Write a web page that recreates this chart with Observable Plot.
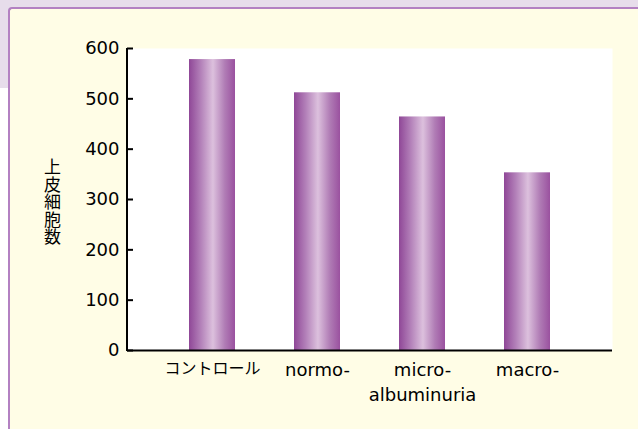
<!DOCTYPE html>
<html>
<head>
<meta charset="utf-8">
<script src="https://cdn.jsdelivr.net/npm/d3@7"></script>
<script src="https://cdn.jsdelivr.net/npm/@observablehq/plot@0.6"></script>
<style>
  html, body { margin: 0; padding: 0; background: #ffffff; }
  #page { position: relative; width: 638px; height: 429px; overflow: hidden; background: #ffffff; }
  #band { position: absolute; left: 0; top: 0; width: 638px; height: 88px; background: #e7ddeb; }
  #panel { position: absolute; left: 8px; top: 7px; width: 700px; height: 500px;
           background: #fffde6; border-left: 2px solid #b381c2; border-top: 2px solid #b381c2;
           border-top-left-radius: 4px; }
  #chart { position: absolute; left: 0; top: 0; }
</style>
</head>
<body>
<div id="page">
  <div id="band"></div>
  <div id="panel"></div>
  <div id="chart"></div>
</div>
<script>
const categories = ["control", "normo", "micro", "macro"];
const categoryLabels = ["コントロール", "normo-", "micro-\nalbuminuria", "macro-"];
const labelSizes = [16, 18, 18, 18];
const values = [578, 512, 464, 353];
const yTicks = [0, 100, 200, 300, 400, 500, 600];
const yLabel = "上皮細胞数";

const data = categories.map((c, i) => ({cat: c, value: values[i], label: categoryLabels[i], size: labelSizes[i]}));

const plot = Plot.plot({
  width: 638,
  height: 429,
  marginLeft: 127,
  marginRight: 26,
  marginTop: 48,
  marginBottom: 79,
  style: {background: "transparent", fontFamily: "'DejaVu Sans', 'Noto Sans CJK JP', sans-serif", fontSize: "18px", color: "#000"},
  x: {domain: categories, paddingInner: 0.565, paddingOuter: 0.575, axis: null},
  y: {domain: [0, 600], ticks: yTicks, axis: null},
  marks: [
    Plot.frame({fill: "white", stroke: null}),
    Plot.barY(data, {x: "cat", y: "value", fill: "url(#barGrad)"}),
    Plot.ruleY([0], {stroke: "black", strokeWidth: 2}),
    Plot.axisY(yTicks, {anchor: "left", tickSize: -6, tickPadding: 14, strokeWidth: 2, label: null, fill: "black", fontSize: 18}),
    Plot.text(data, {x: "cat", text: "label", frameAnchor: "bottom", lineAnchor: "top", dy: 8, fontSize: "size", lineHeight: 1.38, fill: "black"}),
    Plot.text([yLabel], {frameAnchor: "left", dx: -75, dy: -3, text: d => d, fontSize: 17, fill: "black", fontFamily: "'Noto Sans CJK JP', sans-serif"})
  ]
});

const svg = d3.select(plot);
const defs = svg.insert("defs", ":first-child");
const grad = defs.append("linearGradient").attr("id", "barGrad").attr("x1", "0").attr("x2", "1").attr("y1", "0").attr("y2", "0");
[["0%", "#8f4797"], ["25%", "#b27fb8"], ["52%", "#dcc0dd"], ["78%", "#b07cb5"], ["100%", "#9a519f"]]
  .forEach(([o, c]) => grad.append("stop").attr("offset", o).attr("stop-color", c));

// vertical (tategaki) axis title
svg.selectAll("text").filter(function() { return this.textContent === yLabel; })
  .attr("dy", null)
  .attr("text-anchor", "middle")
  .style("text-anchor", "middle")
  .style("writing-mode", "vertical-rl")
  .style("text-orientation", "upright")
  .style("letter-spacing", "0.6px");

// left axis line through the plot's own scales
const xs = plot.scale("x"), ys = plot.scale("y");
svg.append("line")
  .attr("x1", xs.range[0]).attr("x2", xs.range[0])
  .attr("y1", ys.range[0] + 1).attr("y2", ys.range[1])
  .attr("stroke", "black").attr("stroke-width", 2);

document.getElementById("chart").appendChild(plot);
</script>
</body>
</html>
